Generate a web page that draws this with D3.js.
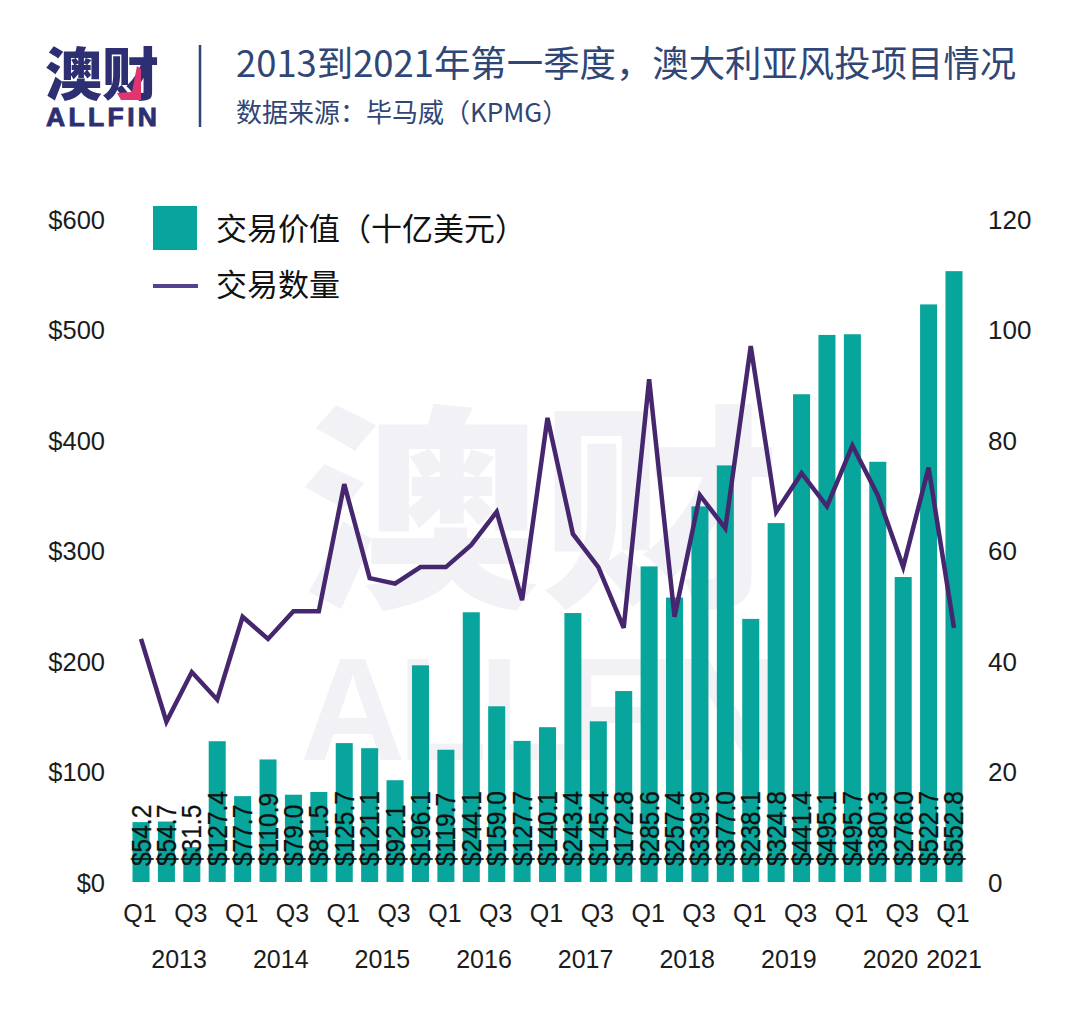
<!DOCTYPE html>
<html>
<head>
<meta charset="utf-8">
<script src="https://cdn.jsdelivr.net/npm/d3@7"></script>
<style>
  html, body { margin: 0; padding: 0; background: #fff; }
  svg { display: block; }
  text { font-family: "Liberation Sans", Arial, sans-serif; fill: #1c1c1c; }
  .cjk { font-family: "Noto Sans CJK SC", sans-serif; }
</style>
</head>
<body>
<div id="chart-area"></div>
<script>
const quarters = [
  "2013 Q1","2013 Q2","2013 Q3","2013 Q4","2014 Q1","2014 Q2","2014 Q3","2014 Q4",
  "2015 Q1","2015 Q2","2015 Q3","2015 Q4","2016 Q1","2016 Q2","2016 Q3","2016 Q4",
  "2017 Q1","2017 Q2","2017 Q3","2017 Q4","2018 Q1","2018 Q2","2018 Q3","2018 Q4",
  "2019 Q1","2019 Q2","2019 Q3","2019 Q4","2020 Q1","2020 Q2","2020 Q3","2020 Q4",
  "2021 Q1"
]
const dealValues = [
  54.2, 54.7, 31.5, 127.4, 77.7, 110.9, 79.0, 81.5,
  125.7, 121.1, 92.1, 196.1, 119.7, 244.1, 159.0, 127.7,
  140.1, 243.4, 145.4, 172.8, 285.6, 257.4, 339.9, 377.0,
  238.1, 324.8, 441.4, 495.1, 495.7, 380.3, 276.0, 522.7,
  552.8
]
const dealCounts = [
  44, 29, 38, 33, 48, 44, 49, 49,
  72, 55, 54, 57, 57, 61, 67, 51,
  84, 63, 57, 46, 91, 48, 70, 64,
  97, 67, 74, 68, 79, 70, 57, 75,
  46
]
const years = ["2013","2014","2015","2016","2017","2018","2019","2020","2021"]
const valueTicks = [0, 100, 200, 300, 400, 500, 600]
const countTicks = [0, 20, 40, 60, 80, 100, 120]

const teal = "#07a59b"
const purple = "#46266e"
const navy = "#2f4676"

const svg = d3.select("#chart-area")
  .append("svg")
  .attr("width", 1080)
  .attr("height", 1015)

const xScale = d3.scaleBand()
  .domain(quarters)
  .range([128.3, 966.7])
  .paddingInner(0.33)
  .paddingOuter(0.165)
const xCenter = d => xScale(d) + xScale.bandwidth() / 2

const yValue = d3.scaleLinear().domain([0, 600]).range([882, 219])
const yCount = d3.scaleLinear().domain([0, 120]).range([882, 219])

// watermark goes behind everything, stretched to the blocky proportions
const mark = svg.append("g")
mark.append("text").attr("class", "cjk")
  .attr("transform", "translate(540,590) scale(1.02,0.92)")
  .attr("text-anchor", "middle")
  .attr("font-size", 236).attr("font-weight", 900)
  .style("fill", "#f2f1f5")
  .text("澳财")
mark.append("text")
  .attr("x", 540).attr("y", 760)
  .attr("text-anchor", "middle")
  .attr("font-size", 146).attr("font-weight", 700)
  .attr("textLength", 480)
  .style("fill", "#f2f1f5")
  .text("ALLFIN")

// header
svg.append("text").attr("class", "cjk")
  .attr("x", 45).attr("y", 95)
  .attr("font-size", 57).attr("font-weight", 900)
  .style("fill", "#2e2f73")
  .text("澳财")
svg.append("path")
  .attr("d", "M137,66 L141,69 L141,100 L121,100 L117,93 L132,92 Z")
  .attr("fill", "#e0356f")
svg.append("text")
  .attr("x", 46).attr("y", 126)
  .attr("font-size", 26.5).attr("font-weight", 700)
  .attr("textLength", 111)
  .attr("stroke", "#2e2f73").attr("stroke-width", 0.9)
  .style("fill", "#2e2f73")
  .text("ALLFIN")
svg.append("line")
  .attr("x1", 200).attr("x2", 200)
  .attr("y1", 45).attr("y2", 127)
  .attr("stroke", navy).attr("stroke-width", 2.5)
svg.append("text").attr("class", "cjk")
  .attr("x", 236).attr("y", 77)
  .attr("font-size", 36.4)
  .style("fill", navy)
  .text("2013到2021年第一季度，澳大利亚风投项目情况")
svg.append("text").attr("class", "cjk")
  .attr("x", 236).attr("y", 122)
  .attr("font-size", 26)
  .style("fill", navy)
  .text("数据来源：毕马威（KPMG）")

// bars
svg.append("g")
  .selectAll("rect")
  .data(quarters)
  .join("rect")
  .attr("x", d => xScale(d))
  .attr("width", xScale.bandwidth())
  .attr("y", (d, i) => yValue(dealValues[i]))
  .attr("height", (d, i) => yValue(0) - yValue(dealValues[i]))
  .attr("fill", teal)

// rotated value labels, a little taller than plain Arial like the original
svg.append("g")
  .selectAll("text")
  .data(quarters)
  .join("text")
  .attr("transform", d => `translate(${xCenter(d) + 9.5},866) rotate(-90) scale(1,1.12)`)
  .attr("font-size", 24.5)
  .attr("stroke", "#111").attr("stroke-width", 0.25)
  .style("fill", "#111")
  .text((d, i) => "$" + dealValues[i].toFixed(1))

// deal count line
const countLine = d3.line()
  .x(d => xCenter(d))
  .y((d, i) => yCount(dealCounts[i]))
svg.append("path")
  .attr("d", countLine(quarters))
  .attr("fill", "none")
  .attr("stroke", purple)
  .attr("stroke-width", 4.5)
  .attr("stroke-linejoin", "miter")

// axes
const styleAxis = (g, size) => {
  g.select(".domain").remove()
  g.selectAll(".tick line").remove()
  g.selectAll("text").attr("font-size", size).attr("font-family", null).style("fill", "#1c1c1c")
}
const leftAxis = d3.axisLeft(yValue).tickValues(valueTicks).tickFormat(d => "$" + d).tickSize(0).tickPadding(0)
svg.append("g").attr("transform", "translate(105,1)").call(leftAxis).call(g => styleAxis(g, 25.5))

const rightAxis = d3.axisRight(yCount).tickValues(countTicks).tickSize(0).tickPadding(0)
svg.append("g").attr("transform", "translate(988,1)").call(rightAxis).call(g => styleAxis(g, 26))

const quarterAxis = d3.axisBottom(xScale)
  .tickValues(quarters.filter((d, i) => i % 2 == 0))
  .tickFormat(d => d.split(" ")[1])
  .tickSize(0).tickPadding(0)
svg.append("g").attr("transform", "translate(-1,904)").call(quarterAxis).call(g => styleAxis(g, 25))

// year labels sit under the middle of their quarters
svg.append("g")
  .selectAll("text")
  .data(years)
  .join("text")
  .attr("x", y => d3.mean(quarters.filter(q => q.startsWith(y)), xCenter))
  .attr("y", 968)
  .attr("text-anchor", "middle")
  .attr("font-size", 25)
  .text(d => d)

// legend
svg.append("rect")
  .attr("x", 153).attr("y", 206)
  .attr("width", 44).attr("height", 44)
  .attr("fill", teal)
svg.append("line")
  .attr("x1", 153).attr("x2", 198)
  .attr("y1", 286).attr("y2", 286)
  .attr("stroke", "#54418f").attr("stroke-width", 4)
svg.append("text").attr("class", "cjk")
  .attr("x", 216).attr("y", 240)
  .attr("font-size", 31)
  .style("fill", "#111")
  .text("交易价值（十亿美元）")
svg.append("text").attr("class", "cjk")
  .attr("x", 216).attr("y", 296)
  .attr("font-size", 31)
  .style("fill", "#111")
  .text("交易数量")
</script>
</body>
</html>
